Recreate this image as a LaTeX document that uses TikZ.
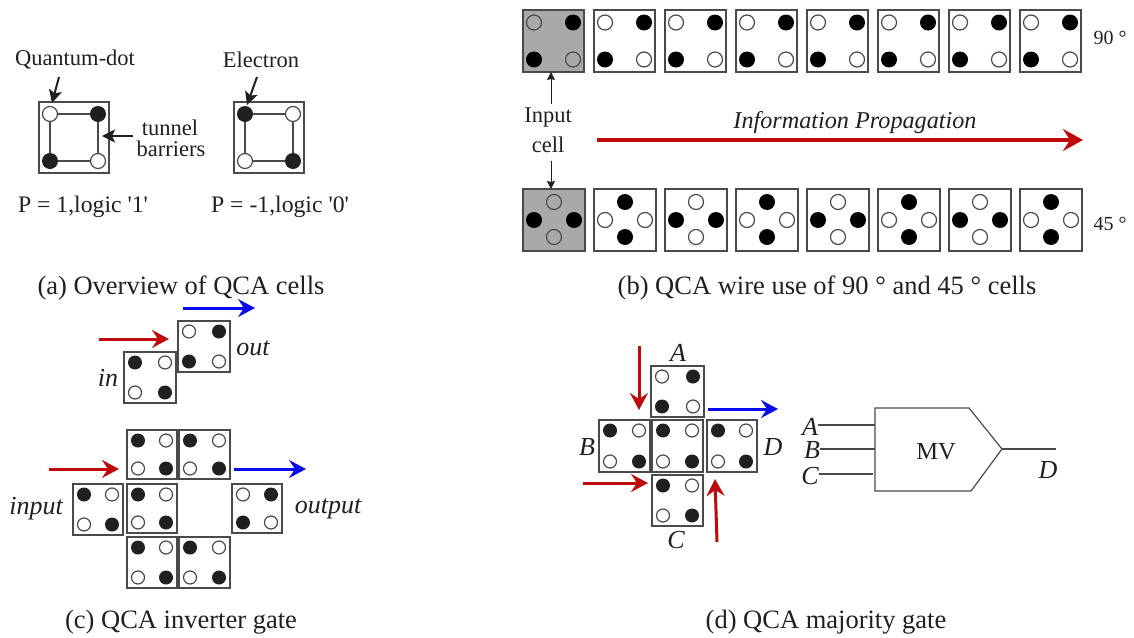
\documentclass[tikz,border=0pt]{standalone}
\usepackage{fontspec}
\setmainfont{Liberation Serif}
\newfontfamily\pfont{Liberation Serif}
\usetikzlibrary{arrows.meta}
\definecolor{qred}{HTML}{BE0A0A}
\definecolor{qblue}{HTML}{0A0AF0}
\definecolor{qline}{HTML}{4A4A4A}
\definecolor{qink}{HTML}{202020}
\definecolor{qgray}{HTML}{A9A9A9}
\newcommand{\fs}[1]{\fontsize{#1}{#1}\selectfont}
\tikzset{
  cellbox/.style={draw=qline,line width=1.5pt,rectangle,anchor=north west,inner sep=0pt,outer sep=0pt},
  dotfull/.style={circle,draw=none,fill=qdk,inner sep=0pt,outer sep=0pt,minimum size=2*\qr pt},
  dotopen/.style={circle,draw=qline,fill=white,line width=1.2pt,inner sep=0pt,outer sep=0pt,minimum size=2*\qr pt-1pt},
  dotgray/.style={circle,draw=qline,fill=qgray,line width=1.2pt,inner sep=0pt,outer sep=0pt,minimum size=2*\qr pt-1pt},
  txt/.style={text=qink,inner sep=0pt,outer sep=0pt,yshift=-2.5pt},
  caption/.style={txt,font=\fs{26.5}},
  lab/.style={txt,font=\fs{22.5}},
  ital/.style={txt,font=\fs{26}\itshape},
  redarrow/.style={draw=qred,line width=3pt,-{Stealth[length=17pt,width=18pt,inset=6pt]}},
  longarrow/.style={draw=qred,line width=3.3pt,-{Stealth[length=20pt,width=22pt,inset=7pt]}},
  bluearrow/.style={draw=qblue,line width=3pt,-{Stealth[length=17pt,width=18pt,inset=6pt]}},
  inkarrow/.style={draw=qink,line width=2pt,-{Stealth[length=13pt,width=13pt,inset=3pt]}},
  thinarrow/.style={draw=qink,line width=1pt,-{Stealth[length=8pt,width=8pt,inset=1pt]}},
  wire/.style={draw=qline,line width=1.2pt},
  tunnel/.style={draw=qline,line width=1.2pt},
}
\colorlet{qdk}{black}
% [options], name, top-left, w, h, style of TL+BR dots, style of TR+BL dots
\newcommand{\qcell}[7][]{%
  \node[cellbox,minimum width=#4pt,minimum height=#5pt,#1] (#2) at (#3) {};
  \node[#6] (#2-tl) at ([xshift=\qm pt,yshift=-\qmy pt]#2.north west) {};
  \node[#6] (#2-br) at ([xshift=-\qm pt,yshift=\qmy pt]#2.south east) {};
  \node[#7] (#2-tr) at ([xshift=-\qm pt,yshift=-\qmy pt]#2.north east) {};
  \node[#7] (#2-bl) at ([xshift=\qm pt,yshift=\qmy pt]#2.south west) {};
}
% 45 degree cell: [options], name, top-left, top+bottom style, left+right style
\newcommand{\qcellr}[5][]{%
  \node[cellbox,minimum width=62pt,minimum height=62pt,#1] (#2) at (#3) {};
  \node[#4] (#2-t) at ([yshift=18pt]#2.center) {};
  \node[#4] (#2-b) at ([yshift=-17pt]#2.center) {};
  \node[#5] (#2-l) at ([xshift=-20pt]#2.center) {};
  \node[#5] (#2-r) at ([xshift=20pt]#2.center) {};
}
\def\qm{11}\def\qmy{12}\def\qr{8}
\begin{document}
\begin{tikzpicture}[x=1pt,y=-1pt]
\useasboundingbox (0,0) rectangle (1134,637);
\fill[white] (0,0) rectangle (1134,637);

%%% (a)
\colorlet{qdk}{qink}
\qcell{pa}{39,102}{70}{71}{dotopen}{dotfull}
\qcell{pb}{234,102}{70}{71}{dotfull}{dotopen}
\node[lab] (qd) at (75,57) {Quantum-dot};
\node[lab] (el) at (261,57) {Electron};
\node[lab] (tu) at (170,125) {tunnel};
\node[lab] (ba) at (171,146) {barriers};
\node[txt,font=\fs{23.7}\pfont] (p1) at (83,204) {P = 1,logic '1'};
\node[txt,font=\fs{23.7}\pfont] (p0) at (280,204) {P = -1,logic '0'};
\foreach \c in {pa,pb}{
  \draw[tunnel] (\c-tl) -- (\c-tr) (\c-tr) -- (\c-br) (\c-br) -- (\c-bl) (\c-bl) -- (\c-tl);
}
\coordinate (qdf) at (59,77);
\coordinate (qdt) at (52,103);
\coordinate (elf) at (257,77);
\coordinate (elt) at (247,105);
\coordinate (tuf) at (133,136);
\coordinate (tut) at (102,136);
\draw[inkarrow] (qdf) -- (qdt);
\draw[inkarrow] (elf) -- (elt);
\draw[inkarrow] (tuf) -- (tut);
\node[caption] (capa) at (181,285) {(a) Overview of QCA cells};

%%% (b)
\colorlet{qdk}{black}
\def\qm{11}\def\qmy{12.5}\def\qr{8}
\foreach \i in {0,...,7}{
  \pgfmathsetmacro{\xx}{523+71*\i}
  \ifnum\i=0
    \qcell[fill=qgray]{up\i}{\xx,10}{61}{62}{dotgray}{dotfull}
  \else
    \qcell{up\i}{\xx,10}{61}{62}{dotopen}{dotfull}
  \fi
  \ifnum\i=0
    \qcellr[fill=qgray]{dn\i}{\xx,189}{dotgray}{dotfull}
  \else
    \ifodd\i
      \qcellr{dn\i}{\xx,189}{dotfull}{dotopen}
    \else
      \qcellr{dn\i}{\xx,189}{dotopen}{dotfull}
    \fi
  \fi
}
\node[lab] (inp) at (548,115.5) {Input};
\node[lab] (cel) at (548,142) {cell};
\coordinate (inu) at (551,104);
\coordinate (ind) at (551,161);
\coordinate (inut) at (551,72);
\coordinate (indt) at (551,189);
\draw[thinarrow] (inu) -- (inut);
\draw[thinarrow] (ind) -- (indt);
\node[txt,font=\fs{24.2}\itshape] (ip) at (855,120) {Information Propagation};
\coordinate (ipf) at (597,140);
\coordinate (ipt) at (1083,140);
\draw[longarrow] (ipf) -- (ipt);
\node[txt,font=\fs{20}] (d90) at (1110,35) {90 °};
\node[txt,font=\fs{20}] (d45) at (1110,221) {45 °};
\node[caption] (capb) at (827,285) {(b) QCA wire use of 90 ° and 45 ° cells};

%%% (c)
\colorlet{qdk}{qink}
\def\qm{11}\def\qmy{10.5}\def\qr{7}
\qcell{cin}{124,352}{52}{51}{dotfull}{dotopen}
\qcell{cout}{178,321}{52}{51}{dotopen}{dotfull}
\node[ital] (tin) at (108,375) {in};
\node[ital] (tout) at (253,346) {out};
\coordinate (c1f) at (99,339);
\coordinate (c1t) at (169,339);
\coordinate (c2f) at (183,308);
\coordinate (c2t) at (255,308);
\draw[redarrow] (c1f) -- (c1t);
\draw[bluearrow] (c2f) -- (c2t);
\qcell{g1}{127,430}{50}{49}{dotfull}{dotopen}
\qcell{g2}{179,430}{51}{49}{dotfull}{dotopen}
\qcell{g3}{127,484}{50}{49}{dotfull}{dotopen}
\qcell{g4}{73,484}{50}{51}{dotfull}{dotopen}
\qcell{g5}{232,484}{50}{49}{dotopen}{dotfull}
\qcell{g6}{127,537}{50}{51}{dotfull}{dotopen}
\qcell{g7}{179,537}{51}{51}{dotfull}{dotopen}
\node[ital] (tinput) at (36,506) {input};
\node[ital] (toutput) at (328,506) {output};
\coordinate (c3f) at (49,469);
\coordinate (c3t) at (119,469);
\coordinate (c4f) at (234,469);
\coordinate (c4t) at (306,469);
\draw[redarrow] (c3f) -- (c3t);
\draw[bluearrow] (c4f) -- (c4t);
\node[caption] (capc) at (181,620) {(c) QCA inverter gate};

%%% (d)
\qcell{mA}{651,366}{53}{51}{dotopen}{dotfull}
\qcell{mB}{599,420}{51}{52}{dotfull}{dotopen}
\qcell{mM}{652,420}{51}{52}{dotfull}{dotopen}
\qcell{mD}{707,420}{50}{52}{dotfull}{dotopen}
\qcell{mC}{652,475}{51}{51}{dotfull}{dotopen}
\node[ital] (lA) at (678,350) {A};
\node[ital] (lB) at (587,445) {B};
\node[ital] (lD) at (773,445) {D};
\node[ital] (lC) at (676,538) {C};
\coordinate (d1f) at (639,346);
\coordinate (d1t) at (639,410);
\coordinate (d2f) at (708,409);
\coordinate (d2t) at (778,409);
\coordinate (d3f) at (583,483);
\coordinate (d3t) at (648,483);
\coordinate (d4f) at (717,542);
\coordinate (d4t) at (715,479);
\draw[redarrow] (d1f) -- (d1t);
\draw[bluearrow] (d2f) -- (d2t);
\draw[redarrow] (d3f) -- (d3t);
\draw[redarrow] (d4f) -- (d4t);
\coordinate (mv1) at (875,408);
\coordinate (mv2) at (969,408);
\coordinate (mvo) at (1002,449);
\coordinate (mv3) at (971,491);
\coordinate (mv4) at (875,491);
\draw[wire] (mv1) -- (mv2) -- (mvo) -- (mv3) -- (mv4) -- cycle;
\node[txt,font=\fs{24.5}] (mv) at (936,449) {MV};
\node[ital] (wA) at (810,424) {A};
\node[ital] (wB) at (812,448) {B};
\node[ital] (wC) at (810,474) {C};
\node[ital] (wD) at (1048,468) {D};
\coordinate (wAi) at (875,425);
\coordinate (wBi) at (875,449);
\coordinate (wCi) at (873,474);
\coordinate (wDo) at (1056,449);
\draw[wire] (wA.east |- wAi) -- (wAi);
\draw[wire] (wB.east |- wBi) -- (wBi);
\draw[wire] (wC.east |- wCi) -- (wCi);
\draw[wire] (mvo) -- (wDo);
\node[caption] (capd) at (826,620) {(d) QCA majority gate};
\end{tikzpicture}
\end{document}
